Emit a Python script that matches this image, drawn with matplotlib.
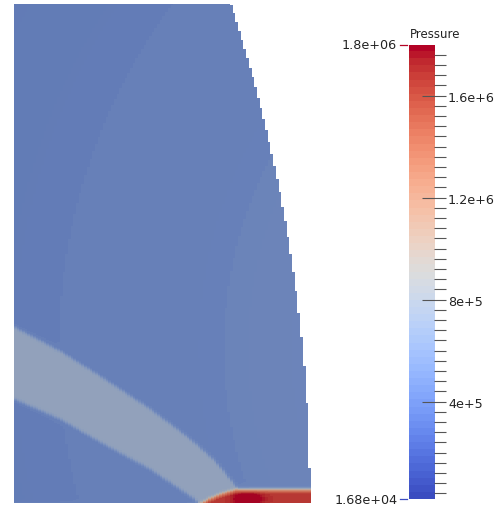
import numpy as np
import matplotlib
matplotlib.use("Agg")
import matplotlib.pyplot as plt
from matplotlib.colors import Normalize

plt.rcParams['font.family'] = ['DejaVu Sans']

# colour scale
p_min, p_max = 1.68e4, 1.8e6
major_ticks = [4e5, 8e5, 1.2e6, 1.6e6]
major_labels = ['4e+5', '8e+5', '1.2e+6', '1.6e+6']
minor_step = 4e4
n_colors = 64

# domain (image-like units, y downwards)
dom_x0, dom_x1 = 14, 311
dom_y0, dom_y1 = 5, 504
cell_w = 2.7
arc_center = (-1299, 503)
arc_radius = 1609

# pressure levels
bg_low, bg_high = 4.4e5, 5.05e5
bg_center = (640, 350)
band_val = 7.3e5
strip_top_val = 1.32e6
strip_deep_val = 1.68e6
core_peak = 0.3e6
core_pos = (248, 500)

# fan / band edges
band_upper_x = [14, 60, 100, 150, 190, 215, 238, 250]
band_upper_y = [328, 352, 377, 410, 440, 462, 490, 520]
band_lower_x = [14, 60, 100, 150, 195, 210]
band_lower_y = [400, 420, 443, 470, 500, 525]

# hot strip along the bottom
strip_x = [195, 210, 222, 236, 311]
strip_y = [507, 499, 494, 490, 490]


def sig(z):
    return 1.0 / (1.0 + np.exp(-z))


nx = int(np.ceil((dom_x1 - dom_x0) / cell_w))
ny = dom_y1 - dom_y0
xs = dom_x0 + (np.arange(nx) + 0.5) * cell_w
ys = dom_y0 + np.arange(ny) + 0.5
X, Y = np.meshgrid(xs, ys)

# background: faint arcs
d = np.hypot(X - bg_center[0], Y - bg_center[1])
t = np.clip((715 - d) / 385, 0, 1)
field = bg_low + (bg_high - bg_low) * t

# light band
yu = np.interp(X, band_upper_x, band_upper_y)
yl = np.interp(X, band_lower_x, band_lower_y)
band = sig((Y - yu) / 1.0) * sig((yl - Y) / 1.0)
field = field * (1 - band) + band_val * band

# hot strip
ytop = np.interp(X, strip_x, strip_y)
depth = Y - ytop
strip = strip_top_val + (strip_deep_val - strip_top_val) * np.clip(depth / 5, 0, 1)
strip += core_peak * np.exp(-((X - core_pos[0]) / 13) ** 2 - ((Y - core_pos[1]) / 6) ** 2)
w = sig(depth / 0.8)
field = field * (1 - w) + strip * w

inside = (X - arc_center[0]) ** 2 + (Y - arc_center[1]) ** 2 <= arc_radius ** 2

cmap = plt.get_cmap('coolwarm', n_colors)
norm = Normalize(p_min, p_max)
v = norm(np.clip(field, p_min, p_max))
rgba = cmap(v)
rgba[..., :3] *= (0.66 + 0.26 * v)[..., None]   # scene lighting
rgba[..., 3] = inside.astype(float)

fig = plt.figure(figsize=(4.99, 5.10), dpi=100)
ax = fig.add_axes([0, 0, 1, 1])
ax.imshow(rgba, extent=[dom_x0, dom_x0 + nx * cell_w, dom_y1, dom_y0],
          interpolation='nearest')
ax.set_xlim(0, 499)
ax.set_ylim(510, 0)
ax.axis('off')

# colour bar
bar_top, bar_bot = 45.7, 500.4
cax = fig.add_axes([409 / 499, 1 - bar_bot / 510, 25 / 499, (bar_bot - bar_top) / 510])
cax.imshow(np.linspace(p_min, p_max, 512)[:, None], aspect='auto', origin='lower',
           extent=[0, 1, p_min, p_max], cmap=cmap, norm=norm, interpolation='nearest')
cax.set_xlim(0, 1)
cax.set_ylim(p_min, p_max)
for s in cax.spines.values():
    s.set_visible(False)
cax.set_xticks([])
cax.yaxis.tick_right()
cax.set_yticks(major_ticks, major_labels)
minor = np.arange(minor_step, p_max, minor_step)
cax.set_yticks(minor, minor=True)
cax.tick_params(which='major', direction='inout', length=17.3, width=0.8,
                color='#555555', labelsize=9.2, labelcolor='#222222', pad=1.4)
cax.tick_params(which='minor', direction='out', length=8.6, width=0.8, color='#555555')

tr = cax.get_yaxis_transform()
cax.plot([-0.36, -0.08], [p_max, p_max], color=cmap(1.0), lw=0.9, transform=tr, clip_on=False)
cax.plot([-0.36, -0.08], [p_min, p_min], color=cmap(0.0), lw=0.9, transform=tr, clip_on=False)
cax.text(-0.48, p_max, '1.8e+06', transform=tr, ha='right', va='center',
         fontsize=9.2, color='#222222')
cax.text(-0.44, p_min, '1.68e+04', transform=tr, ha='right', va='center',
         fontsize=9.2, color='#222222')
fig.text(435.5 / 499, 1 - 34.5 / 510, 'Pressure', ha='center', va='center',
         fontsize=8.5, color='#222222')

fig.savefig('out.png', dpi=100)
